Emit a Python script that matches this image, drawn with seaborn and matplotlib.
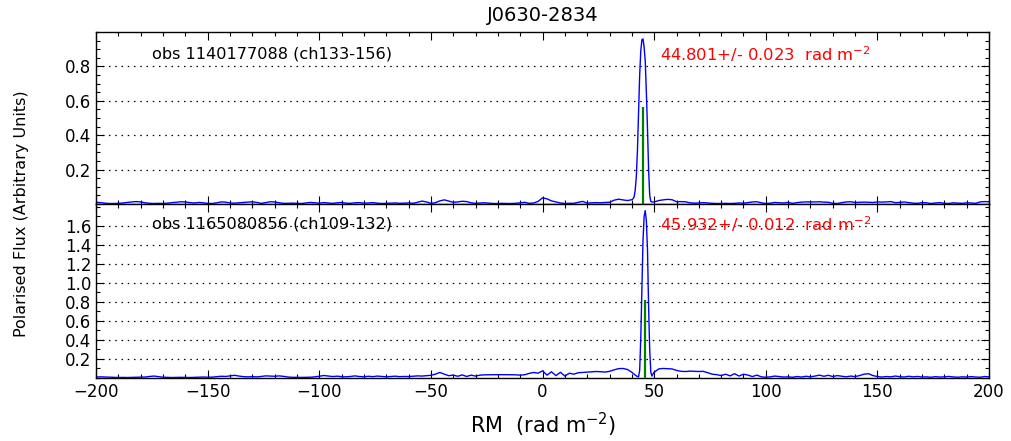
import numpy as np
import pandas as pd
import matplotlib
matplotlib.use("Agg")
import matplotlib.pyplot as plt
import seaborn as sns
from matplotlib.ticker import MultipleLocator, FixedLocator

# ---------------------------------------------------------------------------
# Faraday dispersion spectra of J0630-2834 for two MWA observations
# ---------------------------------------------------------------------------
source_name = "J0630-2834"

obs_labels = ["obs 1140177088 (ch133-156)", "obs 1165080856 (ch109-132)"]
rm_fit = [44.801, 45.932]
rm_err = [0.023, 0.012]
clean_amp = [0.565, 0.82]   # strength of the RM clean component

# RM sampling: coarse grid away from the peak, fine grid across it
rm_left = np.arange(-200, 41, 2)
rm_peak = np.arange(40.5, 50.0, 0.5)
rm_right = np.arange(50, 201, 2)

flux_top_left = [
    0.010, 0.008, 0.005, 0.003, 0.003, 0.004, 0.006, 0.009, 0.012, 0.014,
    0.012, 0.007, 0.004, 0.003, 0.004, 0.003, 0.005, 0.008, 0.010, 0.013,
    0.012, 0.008, 0.006, 0.009, 0.007, 0.004, 0.003, 0.007, 0.012, 0.011,
    0.006, 0.005, 0.007, 0.009, 0.011, 0.013, 0.009, 0.004, 0.008, 0.013,
    0.012, 0.007, 0.004, 0.004, 0.005, 0.004, 0.003, 0.006, 0.009, 0.007,
    0.005, 0.008, 0.006, 0.004, 0.007, 0.009, 0.005, 0.004, 0.007, 0.008,
    0.005, 0.006, 0.008, 0.005, 0.003, 0.004, 0.005, 0.006, 0.004, 0.005,
    0.006, 0.004, 0.010, 0.017, 0.012, 0.004, 0.008, 0.018, 0.024, 0.017,
    0.010, 0.012, 0.016, 0.014, 0.007, 0.004, 0.006, 0.007, 0.005, 0.003,
    0.003, 0.004, 0.003, 0.003, 0.004, 0.007, 0.010, 0.004, 0.006, 0.015,
    0.036, 0.030, 0.018, 0.012, 0.006, 0.003, 0.004, 0.004, 0.010, 0.015,
    0.005, 0.007, 0.008, 0.007, 0.009, 0.010, 0.022, 0.028, 0.024, 0.020,
    0.025,
]
flux_top_peak = [
    0.030, 0.040, 0.080, 0.160, 0.310, 0.530, 0.750, 0.890, 0.955, 0.960,
    0.910, 0.830, 0.650, 0.440, 0.200, 0.050, 0.015, 0.012, 0.012,
]
flux_top_right = [
    0.012, 0.020, 0.024, 0.027, 0.025, 0.013, 0.014, 0.013, 0.007, 0.005,
    0.006, 0.008, 0.006, 0.004, 0.003, 0.003, 0.004, 0.003, 0.004, 0.006,
    0.005, 0.008, 0.012, 0.013, 0.007, 0.003, 0.005, 0.009, 0.007, 0.006,
    0.009, 0.004, 0.008, 0.011, 0.012, 0.012, 0.012, 0.013, 0.011, 0.010,
    0.004, 0.003, 0.008, 0.012, 0.013, 0.009, 0.010, 0.011, 0.010, 0.009,
    0.012, 0.011, 0.012, 0.014, 0.008, 0.009, 0.012, 0.008, 0.005, 0.004,
    0.008, 0.007, 0.003, 0.006, 0.008, 0.004, 0.003, 0.007, 0.005, 0.004,
    0.007, 0.006, 0.004, 0.012, 0.014, 0.013,
]

flux_bot_left = [
    0.010, 0.012, 0.010, 0.008, 0.006, 0.005, 0.006, 0.005, 0.006, 0.008,
    0.007, 0.010, 0.016, 0.020, 0.014, 0.008, 0.006, 0.005, 0.006, 0.007,
    0.006, 0.005, 0.007, 0.009, 0.010, 0.008, 0.009, 0.014, 0.018, 0.016,
    0.022, 0.028, 0.020, 0.014, 0.012, 0.014, 0.012, 0.016, 0.022, 0.020,
    0.018, 0.022, 0.017, 0.010, 0.007, 0.006, 0.006, 0.007, 0.008, 0.012,
    0.018, 0.026, 0.020, 0.015, 0.019, 0.014, 0.012, 0.016, 0.022, 0.015,
    0.013, 0.018, 0.014, 0.020, 0.016, 0.012, 0.015, 0.019, 0.014, 0.016,
    0.015, 0.018, 0.022, 0.020, 0.024, 0.028, 0.040, 0.058, 0.040, 0.024,
    0.030, 0.018, 0.032, 0.016, 0.030, 0.020, 0.030, 0.033, 0.034, 0.034,
    0.035, 0.035, 0.034, 0.034, 0.033, 0.030, 0.034, 0.048, 0.058, 0.050,
    0.075, 0.030, 0.065, 0.025, 0.060, 0.020, 0.050, 0.040, 0.055, 0.058,
    0.062, 0.065, 0.068, 0.066, 0.062, 0.070, 0.085, 0.098, 0.100, 0.090,
    0.060,
]
flux_bot_peak = [
    0.050, 0.040, 0.030, 0.022, 0.015, 0.012, 0.080, 0.420, 0.950, 1.450,
    1.700, 1.760, 1.650, 1.350, 0.750, 0.290, 0.060, 0.020, 0.045,
]
flux_bot_right = [
    0.060, 0.095, 0.100, 0.098, 0.095, 0.080, 0.070, 0.068, 0.072, 0.070,
    0.068, 0.070, 0.055, 0.040, 0.035, 0.025, 0.040, 0.022, 0.045, 0.020,
    0.040, 0.030, 0.015, 0.030, 0.012, 0.008, 0.012, 0.020, 0.015, 0.010,
    0.012, 0.008, 0.015, 0.010, 0.018, 0.012, 0.020, 0.030, 0.018, 0.028,
    0.015, 0.025, 0.018, 0.012, 0.020, 0.015, 0.025, 0.040, 0.045, 0.025,
    0.015, 0.010, 0.015, 0.012, 0.020, 0.014, 0.010, 0.018, 0.012, 0.016,
    0.010, 0.012, 0.008, 0.014, 0.010, 0.012, 0.016, 0.011, 0.008, 0.012,
    0.010, 0.014, 0.010, 0.008, 0.015, 0.012,
]

y_ticks = [[0.2, 0.4, 0.6, 0.8],
           [0.2, 0.4, 0.6, 0.8, 1.0, 1.2, 1.4, 1.6]]
y_minor = [0.05, 0.1]
y_max = [1.0, 1.83]
x_ticks = [-200, -150, -100, -50, 0, 50, 100, 150, 200]

rm_all = np.concatenate([rm_left, rm_peak, rm_right])
spectra = [
    pd.DataFrame({"rm": rm_all,
                  "flux": flux_top_left + flux_top_peak + flux_top_right}),
    pd.DataFrame({"rm": rm_all,
                  "flux": flux_bot_left + flux_bot_peak + flux_bot_right}),
]

sns.set_style("ticks")
plt.rcParams["font.family"] = ["DejaVu Sans"]
plt.rcParams["font.size"] = 12
plt.rcParams["mathtext.default"] = "regular"
plt.rcParams["text.color"] = "k"
plt.rcParams["axes.labelcolor"] = "k"
plt.rcParams["xtick.color"] = "k"
plt.rcParams["ytick.color"] = "k"

fig = plt.figure(figsize=(10.11, 4.41), dpi=100)
ax_top = fig.add_axes([0.0950, 0.5374, 0.8833, 0.3900])
ax_bot = fig.add_axes([0.0950, 0.1429, 0.8833, 0.3946], sharex=ax_top)
axes = [ax_top, ax_bot]

for i, ax in enumerate(axes):
    sns.lineplot(data=spectra[i], x="rm", y="flux", ax=ax, color="b",
                 linewidth=1.0, estimator=None, legend=False)
    ax.vlines(rm_fit[i], 0, clean_amp[i], colors="g", linewidth=1.6,
              zorder=3)

    ax.set_xlim(-200, 200)
    ax.set_ylim(0, y_max[i])
    ax.yaxis.set_major_locator(FixedLocator(y_ticks[i]))
    ax.yaxis.set_minor_locator(MultipleLocator(y_minor[i]))
    ax.xaxis.set_major_locator(FixedLocator(x_ticks))
    ax.xaxis.set_minor_locator(MultipleLocator(10))
    ax.yaxis.grid(True, which="major", color="k", linewidth=0.9,
                  linestyle=(0, (1.2, 3.8)))
    ax.set_axisbelow(True)

    ax.tick_params(which="both", direction="in", top=True, right=True,
                   width=0.8, colors="k", labelsize=12)
    ax.tick_params(which="major", length=5.5)
    ax.tick_params(which="minor", length=2.8)
    for sp in ax.spines.values():
        sp.set_linewidth(1.0)
        sp.set_color("k")
    ax.set_xlabel("")
    ax.set_ylabel("")

    ax.text(0.063, 0.87 if i == 0 else 0.882, obs_labels[i],
            transform=ax.transAxes, fontsize=11.6, color="k",
            ha="left", va="center")
    ax.text(0.632, 0.87 if i == 0 else 0.882,
            f"{rm_fit[i]:.3f}+/- {rm_err[i]:.3f}  rad m$^{{-2}}$",
            transform=ax.transAxes, fontsize=11.8, color="red",
            ha="left", va="center")

ax_top.tick_params(axis="x", labelbottom=False)
ax_top.set_title(source_name, fontsize=14, pad=8, color="k")

fig.text(0.537, 0.036, "RM  (rad m$^{-2}$)", fontsize=15, color="k",
         ha="center", va="center")
fig.text(0.021, 0.515, "Polarised Flux (Arbitrary Units)", fontsize=11.5,
         color="k", rotation=90, ha="center", va="center")

fig.savefig("out.png", dpi=100)
